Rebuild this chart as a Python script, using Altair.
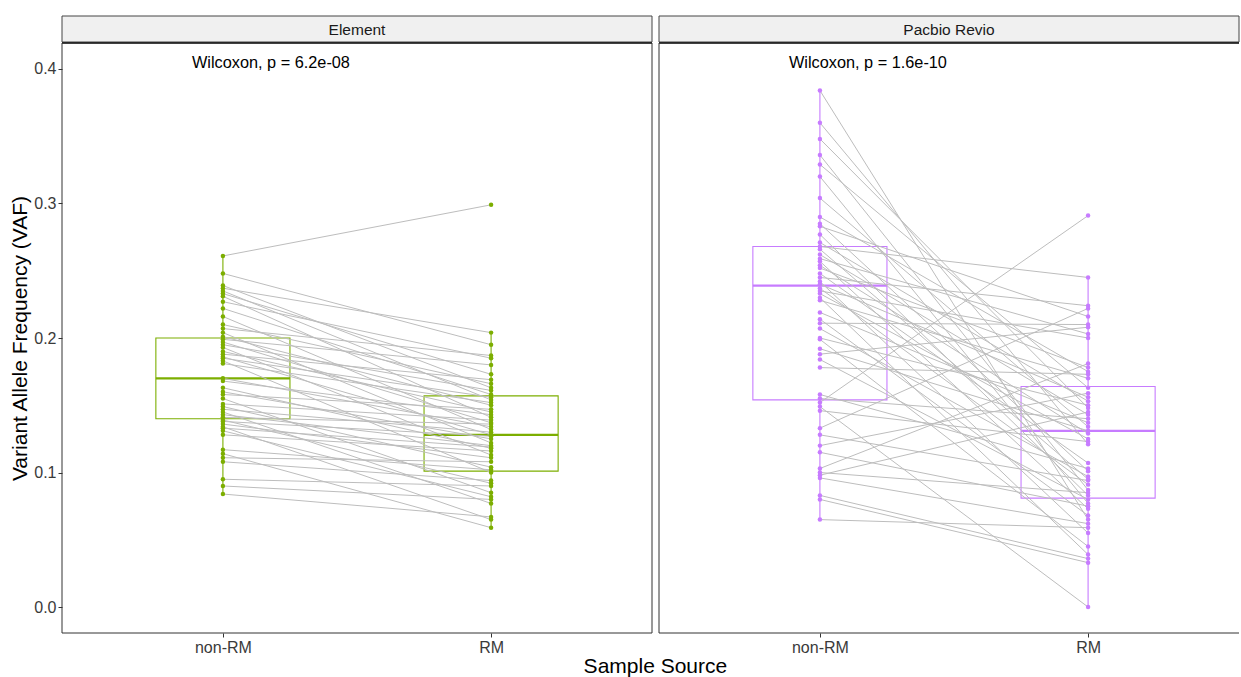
import altair as alt
import pandas as pd

FONT = "Liberation Sans"
GREEN = "#7CAE00"
PURPLE = "#C77CFF"

panels = ["Element", "Pacbio Revio"]
sources = ["non-RM", "RM"]
pvalue_labels = ["Wilcoxon, p = 6.2e-08", "Wilcoxon, p = 1.6e-10"]

# paired VAF values (same index = same variant)
element_nonrm = [0.261, 0.248, 0.239, 0.237, 0.235, 0.233, 0.231, 0.227, 0.222, 0.216,
                 0.210, 0.207, 0.204, 0.201, 0.199, 0.197, 0.195, 0.193, 0.190, 0.188,
                 0.186, 0.185, 0.183, 0.181, 0.170, 0.168, 0.163, 0.160, 0.158, 0.155,
                 0.151, 0.149, 0.147, 0.145, 0.143, 0.141, 0.139, 0.138, 0.136, 0.134,
                 0.133, 0.131, 0.128, 0.117, 0.114, 0.111, 0.108, 0.095, 0.090, 0.084]
element_rm = [0.299, 0.195, 0.163, 0.204, 0.154, 0.173, 0.141, 0.185, 0.158, 0.132,
              0.166, 0.187, 0.122, 0.150, 0.180, 0.137, 0.161, 0.113, 0.145, 0.169,
              0.128, 0.156, 0.100, 0.152, 0.134, 0.143, 0.118, 0.125, 0.147, 0.085,
              0.139, 0.104, 0.130, 0.077, 0.120, 0.136, 0.092, 0.127, 0.111, 0.065,
              0.119, 0.082, 0.116, 0.102, 0.059, 0.108, 0.094, 0.090, 0.080, 0.067]

revio_nonrm = [0.384, 0.360, 0.348, 0.336, 0.329, 0.320, 0.304, 0.290, 0.285, 0.283,
               0.277, 0.271, 0.268, 0.266, 0.262, 0.259, 0.257, 0.254, 0.252, 0.248,
               0.245, 0.242, 0.240, 0.237, 0.235, 0.233, 0.230, 0.228, 0.219, 0.214,
               0.211, 0.207, 0.200, 0.199, 0.192, 0.188, 0.184, 0.178, 0.158, 0.155,
               0.152, 0.149, 0.146, 0.133, 0.128, 0.120, 0.115, 0.103, 0.100, 0.098,
               0.096, 0.083, 0.080, 0.065]
revio_rm = [0.065, 0.121, 0.148, 0.087, 0.163, 0.077, 0.134, 0.175, 0.101, 0.216,
            0.083, 0.153, 0.245, 0.095, 0.143, 0.203, 0.073, 0.129, 0.178, 0.107,
            0.224, 0.055, 0.156, 0.091, 0.200, 0.125, 0.039, 0.170, 0.137, 0.068,
            0.210, 0.097, 0.150, 0.045, 0.131, 0.208, 0.080, 0.173, 0.103, 0.140,
            0.291, 0.000, 0.123, 0.222, 0.094, 0.159, 0.075, 0.181, 0.085, 0.145,
            0.062, 0.036, 0.033, 0.059]

# boxplot statistics
box_panel = ["Element", "Element", "Pacbio Revio", "Pacbio Revio"]
box_source = ["non-RM", "RM", "non-RM", "RM"]
box_q1 = [0.140, 0.101, 0.154, 0.081]
box_median = [0.170, 0.128, 0.239, 0.131]
box_q3 = [0.200, 0.157, 0.268, 0.164]
whisker_low = [0.084, 0.059, 0.065, 0.000]
whisker_high = [0.261, 0.204, 0.384, 0.245]

src_index = {s: i + 1 for i, s in enumerate(sources)}

rows = []
for pname, a_vals, b_vals in [("Element", element_nonrm, element_rm),
                              ("Pacbio Revio", revio_nonrm, revio_rm)]:
    for i, (a, b) in enumerate(zip(a_vals, b_vals)):
        rows.append({"panel": pname, "pair": i, "source": "non-RM", "pos": 1, "vaf": a})
        rows.append({"panel": pname, "pair": i, "source": "RM", "pos": 2, "vaf": b})
df = pd.DataFrame(rows)

box = pd.DataFrame({"panel": box_panel, "source": box_source, "q1": box_q1,
                    "median": box_median, "q3": box_q3,
                    "wlo": whisker_low, "whi": whisker_high})
box["pos"] = box["source"].map(src_index)

H = 590
W_LEFT = 590
W_RIGHT = 580
PX_PER_UNIT = W_LEFT / 2.2
Y_DOMAIN = [-0.0193, 0.4193]


def make_panel(name, color, width, label, show_y, right_edge):
    d = df[df.panel == name]
    b = box[box.panel == name]
    xmax = 0.4 + width / PX_PER_UNIT
    xs = alt.Scale(domain=[0.4, xmax], nice=False, zero=False)
    ys = alt.Scale(domain=Y_DOMAIN, nice=False, zero=False)
    xaxis = alt.Axis(values=[1, 2], labelExpr="datum.value == 1 ? 'non-RM' : 'RM'",
                     title=None, grid=False, domain=False, tickSize=4,
                     tickColor="#333333", labelFontSize=16, labelColor="#3a3a3a",
                     labelPadding=2, labelFont=FONT)
    if show_y:
        yaxis = alt.Axis(values=[0, 0.1, 0.2, 0.3, 0.4], format=".1f",
                         title="Variant Allele Frequency (VAF)", grid=False,
                         domain=False, tickSize=4, tickColor="#333333",
                         labelFontSize=16, labelColor="#3a3a3a", labelFont=FONT,
                         labelPadding=2, titleFont=FONT, titleFontSize=21,
                         titleFontWeight="normal", titleColor="black",
                         titlePadding=3, minExtent=29, maxExtent=29)
    else:
        yaxis = None

    boxes = alt.Chart(b).transform_calculate(
        x1="datum.pos - 0.25", x2="datum.pos + 0.25"
    ).mark_rect(fillOpacity=0, stroke=color, strokeWidth=1.1).encode(
        x=alt.X("x1:Q", scale=xs, axis=xaxis),
        x2="x2:Q",
        y=alt.Y("q1:Q", scale=ys, axis=yaxis),
        y2="q3:Q",
    )
    w_lo = alt.Chart(b).mark_rule(color=color, strokeWidth=1.1).encode(
        x="pos:Q", y="wlo:Q", y2="q1:Q")
    w_hi = alt.Chart(b).mark_rule(color=color, strokeWidth=1.1).encode(
        x="pos:Q", y="q3:Q", y2="whi:Q")
    med = alt.Chart(b).transform_calculate(
        x1="datum.pos - 0.25", x2="datum.pos + 0.25"
    ).mark_rule(color=color, strokeWidth=2.2).encode(
        x="x1:Q", x2="x2:Q", y="median:Q")
    lines = alt.Chart(d).mark_line(color="#bdbdbd", strokeWidth=1).encode(
        x="pos:Q", y="vaf:Q", detail="pair:N")
    pts = alt.Chart(d).mark_circle(size=20, color=color, opacity=1).encode(
        x="pos:Q", y="vaf:Q")

    lab = pd.DataFrame({"t": [label]})
    ptext = alt.Chart(lab).mark_text(align="left", baseline="middle", fontSize=16.3,
                                     font=FONT, color="black").encode(
        x=alt.value(130), y=alt.value(20), text="t:N")

    strip_df = pd.DataFrame({"t": [name]})
    strip = alt.Chart(strip_df).mark_rect(fill="#f0f0f0", stroke="#444444",
                                          strokeWidth=1).encode(
        x=alt.value(0), x2=alt.value(width), y=alt.value(-27), y2=alt.value(-1))
    strip_t = alt.Chart(strip_df).mark_text(fontSize=15.5, font=FONT,
                                            color="#1a1a1a", baseline="middle").encode(
        x=alt.value(width / 2), y=alt.value(-13.5), text="t:N")

    border = [
        alt.Chart(strip_df).mark_rule(color="black", strokeWidth=1.6).encode(
            x=alt.value(0), x2=alt.value(width), y=alt.value(0)),
        alt.Chart(strip_df).mark_rule(color="#333333", strokeWidth=1).encode(
            x=alt.value(0), x2=alt.value(width), y=alt.value(H)),
        alt.Chart(strip_df).mark_rule(color="#333333", strokeWidth=1).encode(
            x=alt.value(0), y=alt.value(0), y2=alt.value(H)),
    ]
    if right_edge:
        border.append(alt.Chart(strip_df).mark_rule(color="#333333", strokeWidth=1).encode(
            x=alt.value(width), y=alt.value(0), y2=alt.value(H)))

    return alt.layer(boxes, w_lo, w_hi, med, lines, pts, ptext, strip, strip_t,
                     *border).properties(width=width, height=H)


left = make_panel("Element", GREEN, W_LEFT, pvalue_labels[0], True, True)
right = make_panel("Pacbio Revio", PURPLE, W_RIGHT, pvalue_labels[1], False, False)

chart = alt.hconcat(left, right, spacing=5).properties(
    padding={"left": 9, "top": 15, "right": 0, "bottom": 0},
    title=alt.TitleParams("Sample Source", orient="bottom", anchor="middle",
                          fontSize=21, fontWeight="normal", font=FONT,
                          color="black", offset=1, dx=31),
).configure_view(stroke=None)

chart.save("out.html", embed_options={"renderer": "svg", "actions": False})
